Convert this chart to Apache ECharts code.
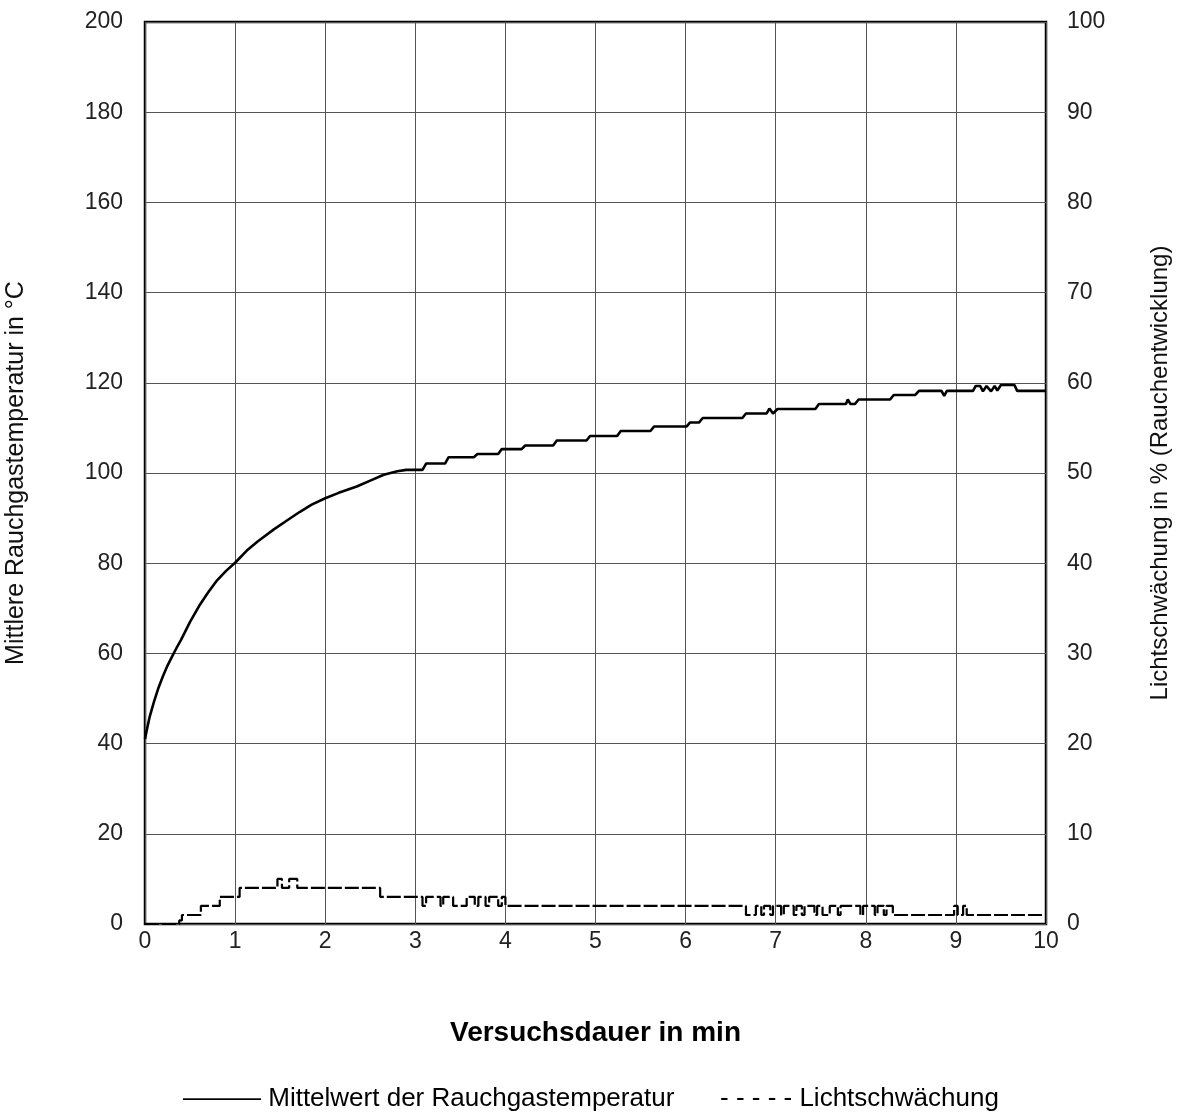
<!DOCTYPE html>
<html>
<head>
<meta charset="utf-8">
<script src="https://cdn.jsdelivr.net/npm/echarts@6/dist/echarts.min.js"></script>
<style>
  html, body { margin: 0; padding: 0; background: #fff; }
  #chart { width: 1180px; height: 1115px; }
</style>
</head>
<body>
<div id="chart"></div>
<script>
// Mittelwert der Rauchgastemperatur (°C), Zeit in min
const tempTime = [
  0, 0.02, 0.05, 0.1, 0.15, 0.2, 0.25, 0.3, 0.35, 0.4, 0.45, 0.5, 0.6, 0.7, 0.8, 0.9, 1.0, 1.13, 1.25, 1.43, 1.6, 1.72, 1.85,
  2.0, 2.15, 2.35, 2.5, 2.65, 2.8, 2.9, 3.08, 3.12, 3.33, 3.37, 3.65, 3.69, 3.92, 3.96, 4.18,
  4.22, 4.53, 4.57, 4.9, 4.94, 5.24, 5.28, 5.61, 5.65, 6.01, 6.05, 6.15, 6.19, 6.63, 6.67, 6.9,
  6.93, 6.97, 7.02, 7.44, 7.48, 7.78, 7.8, 7.83, 7.88, 7.92, 8.27, 8.31, 8.55, 8.59, 8.84, 8.87,
  8.9, 9.19, 9.22, 9.27, 9.3, 9.34, 9.39, 9.43, 9.46, 9.5, 9.65, 9.68, 10
];
const tempValue = [
  41, 43, 45.8, 49.3, 52.4, 55, 57.3, 59.3, 61.2, 63, 65, 67, 70.5, 73.5, 76.2, 78.3, 80.1, 82.8, 84.8, 87.5, 89.8, 91.4, 93,
  94.4, 95.6, 97, 98.3, 99.6, 100.4, 100.7, 100.7, 102.1, 102.1, 103.5, 103.5, 104.2, 104.2, 105.3, 105.3,
  106.1, 106.1, 107.2, 107.2, 108.2, 108.2, 109.3, 109.3, 110.3, 110.3, 111.2, 111.2, 112.2, 112.2, 113.2, 113.2,
  114.3, 113.2, 114.2, 114.2, 115.3, 115.3, 116.3, 115.3, 115.3, 116.3, 116.3, 117.3, 117.3, 118.2, 118.2, 117.1,
  118.2, 118.2, 119.3, 119.3, 118.1, 119.3, 118.1, 119.3, 118.3, 119.5, 119.5, 118.2, 118.2
];

// Lichtschwächung (%), Stufen: Wert gilt ab Zeitpunkt bis zum nächsten
const lightTime = [
  0, 0.38, 0.41, 0.62, 0.83, 1.05, 1.47, 1.52, 1.6, 1.69, 2.61, 3.08, 3.12, 3.28, 3.31, 3.42,
  3.57, 3.66, 3.7, 3.78, 3.82, 3.92, 3.96, 4.0, 6.67, 6.78, 6.84, 6.87, 6.94, 6.97, 7.06, 7.09,
  7.2, 7.23, 7.29, 7.32, 7.43, 7.46, 7.52, 7.6, 7.69, 7.72, 7.94, 7.97, 8.1, 8.13, 8.2, 8.23,
  8.3, 8.98, 9.02, 9.08, 9.12, 10
];
const lightValue = [
  0, 0.4, 1, 2, 3, 4, 5, 4, 5, 4, 3, 2, 3, 2, 3, 2,
  3, 2, 3, 2, 3, 2, 3, 2, 1, 2, 1, 2, 1, 2, 1, 2,
  1, 2, 1, 2, 1, 2, 1, 2, 1, 2, 1, 2, 1, 2, 1, 2,
  1, 2, 1, 2, 1, 1
];

const xTicks = [0, 1, 2, 3, 4, 5, 6, 7, 8, 9, 10];
const legendNames = ['Mittelwert der Rauchgastemperatur', 'Lichtschwächung'];

const tempData = tempTime.map((t, i) => [t, tempValue[i]]);
const lightData = lightTime.map((t, i) => [t, lightValue[i]]);

const chart = echarts.init(document.getElementById('chart'));
const fontFamily = 'Liberation Sans, Arial, sans-serif';
const labelFont = { fontFamily: fontFamily, fontSize: 23, color: '#222' };

const option = {
  animation: false,
  backgroundColor: '#fff',
  grid: {
    left: 145, right: 134, top: 22, bottom: 191,
    outerBoundsMode: 'none',
    containLabel: false,
    show: true, borderColor: '#000', borderWidth: 2.5
  },
  // Legende als Text unter dem Diagramm
  graphic: [
    {
      type: 'text',
      left: 183,
      top: 1086,
      style: { text: '——— ' + legendNames[0], fontFamily: fontFamily, fontSize: 26, fill: '#000' }
    },
    {
      type: 'text',
      left: 720,
      top: 1086,
      style: { text: '- - - - - ' + legendNames[1], fontFamily: fontFamily, fontSize: 26, fill: '#000' }
    }
  ],
  xAxis: {
    type: 'value',
    min: 0,
    max: 10,
    interval: 1,
    name: 'Versuchsdauer in min',
    nameLocation: 'middle',
    nameGap: 95,
    nameTextStyle: { fontFamily: fontFamily, fontSize: 28, fontWeight: 'bold', color: '#000' },
    axisLine: { show: false },
    axisTick: { show: false },
    axisLabel: Object.assign({ margin: 6, formatter: v => xTicks.includes(v) ? String(v) : '' }, labelFont),
    splitLine: { show: true, lineStyle: { color: '#555', width: 1 } }
  },
  yAxis: [
    {
      type: 'value',
      min: 0,
      max: 200,
      interval: 20,
      position: 'left',
      name: 'Mittlere Rauchgastemperatur in °C',
      nameLocation: 'middle',
      nameGap: 116,
      nameRotate: 90,
      nameTextStyle: { fontFamily: fontFamily, fontSize: 25, color: '#111' },
      axisLine: { show: false },
      axisTick: { show: false },
      axisLabel: Object.assign({ margin: 22 }, labelFont),
      splitLine: { show: true, lineStyle: { color: '#555', width: 1 } }
    },
    {
      type: 'value',
      min: 0,
      max: 100,
      interval: 10,
      position: 'right',
      name: 'Lichtschwächung in % (Rauchentwicklung)',
      nameLocation: 'middle',
      nameGap: 102,
      nameRotate: 90,
      nameTextStyle: { fontFamily: fontFamily, fontSize: 24, color: '#111' },
      axisLine: { show: false },
      axisTick: { show: false },
      axisLabel: Object.assign({ margin: 21 }, labelFont),
      splitLine: { show: false }
    }
  ],
  series: [
    {
      name: legendNames[0],
      type: 'line',
      yAxisIndex: 0,
      data: tempData,
      showSymbol: false,
      lineStyle: { color: '#000', width: 2.6 },
      itemStyle: { color: '#000' }
    },
    {
      name: legendNames[1],
      type: 'line',
      yAxisIndex: 1,
      step: 'end',
      data: lightData,
      showSymbol: false,
      lineStyle: { color: '#000', width: 2.2, type: [14, 3] },
      itemStyle: { color: '#000' }
    }
  ]
};

chart.setOption(option);
window.onresize = chart.resize;
</script>
</body>
</html>
